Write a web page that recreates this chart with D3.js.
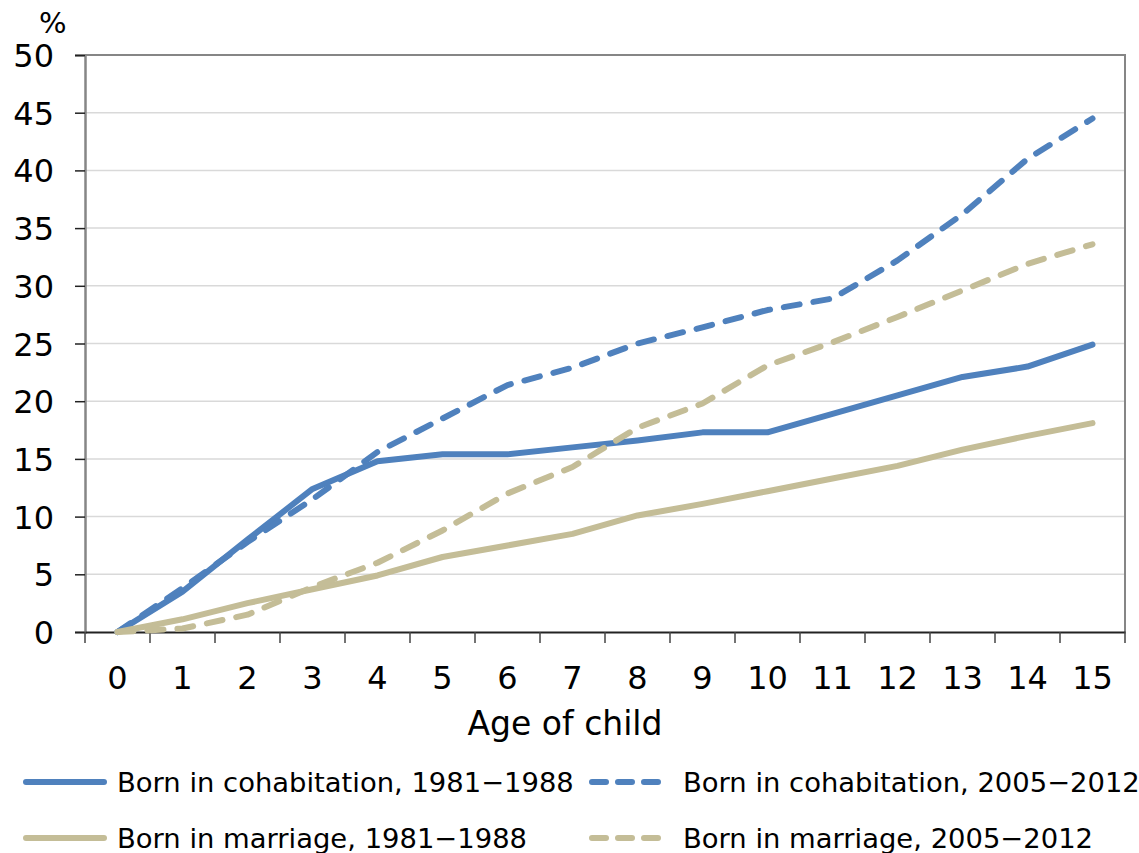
<!DOCTYPE html>
<html>
<head>
<meta charset="utf-8">
<script src="https://d3js.org/d3.v7.min.js"></script>
<style>
  body { margin: 0; background: #fff; }
  text { font-family: "DejaVu Sans", Verdana, sans-serif; fill: #000; }
</style>
</head>
<body>
<script>
// data
var ages = d3.range(0, 16);
var cohab1981 = [0, 3.5, 8.0, 12.4, 14.8, 15.4, 15.4, 16.0, 16.6, 17.3, 17.3, 18.9, 20.5, 22.1, 23.0, 24.9];
var cohab2005 = [0, 3.8, 7.8, 11.5, 15.6, 18.5, 21.4, 22.9, 25.0, 26.4, 27.9, 28.9, 32.2, 36.2, 41.0, 44.5];
var marr1981 = [0, 1.1, 2.5, 3.7, 4.9, 6.5, 7.5, 8.5, 10.1, 11.1, 12.2, 13.3, 14.4, 15.8, 17.0, 18.1];
var marr2005 = [0, 0.3, 1.5, 3.9, 6.0, 8.8, 12.0, 14.3, 17.7, 19.8, 23.1, 25.1, 27.3, 29.6, 31.9, 33.6];
var yTicks = d3.range(0, 51, 5);

var series = [
  { name: "Born in cohabitation, 1981\u22121988", values: cohab1981, color: "#4F81BD", dash: null },
  { name: "Born in cohabitation, 2005\u22122012", values: cohab2005, color: "#4F81BD", dash: "16,14" },
  { name: "Born in marriage, 1981\u22121988", values: marr1981, color: "#C4BD97", dash: null },
  { name: "Born in marriage, 2005\u22122012", values: marr2005, color: "#C4BD97", dash: "16,14" }
];

var width = 1139, height = 853;
var margin = { top: 55, right: 14, bottom: 221, left: 85 };
var w = width - margin.left - margin.right;
var h = height - margin.top - margin.bottom;

var svg = d3.select("body").append("svg")
  .attr("width", width)
  .attr("height", height);

var g = svg.append("g")
  .attr("transform", "translate(" + margin.left + "," + margin.top + ")");

var x = d3.scaleBand().domain(ages).range([0, w]);
var y = d3.scaleLinear().domain([0, 50]).range([h, 0]);

// gridlines
g.append("g").selectAll("line")
  .data(yTicks.filter(function (d) { return d > 0; }))
  .enter().append("line")
  .attr("x1", 0).attr("x2", w)
  .attr("y1", function (d) { return y(d); })
  .attr("y2", function (d) { return y(d); })
  .attr("stroke", "#d9d9d9")
  .attr("stroke-width", 1.5);

// plot border (top / right)
g.append("path")
  .attr("d", "M0,0H" + w + "V" + h)
  .attr("fill", "none")
  .attr("stroke", "#868686")
  .attr("stroke-width", 2);

// y axis
var yAxis = g.append("g")
  .call(d3.axisLeft(y).tickValues(yTicks).tickSize(10).tickPadding(21));
yAxis.select(".domain").attr("stroke", "#868686").attr("stroke-width", 2.5);
yAxis.selectAll(".tick line").attr("stroke", "#222").attr("stroke-width", 1.5);
yAxis.selectAll("text").style("font-size", "32px").attr("dy", "0.36em");

// x axis, ticks between categories
var xAxis = g.append("g")
  .attr("transform", "translate(0," + h + ")")
  .call(d3.axisBottom(x).tickSize(0).tickPadding(34));
xAxis.select(".domain").attr("stroke", "#222").attr("stroke-width", 2);
xAxis.selectAll("text").style("font-size", "32px");
xAxis.append("g").selectAll("line")
  .data(d3.range(0, 17))
  .enter().append("line")
  .attr("x1", function (d) { return d * x.step(); })
  .attr("x2", function (d) { return d * x.step(); })
  .attr("y1", 0).attr("y2", 11)
  .attr("stroke", "#444")
  .attr("stroke-width", 1.5);

// axis titles
svg.append("text")
  .attr("x", 565).attr("y", 735)
  .attr("text-anchor", "middle")
  .style("font-size", "33px")
  .text("Age of child");

svg.append("text")
  .attr("x", 39).attr("y", 33)
  .attr("text-anchor", "start")
  .style("font-size", "29px")
  .text("%");

// lines
var line = d3.line()
  .x(function (d, i) { return x(ages[i]) + x.bandwidth() / 2; })
  .y(function (d) { return y(d); });

g.append("g").selectAll("path")
  .data(series)
  .enter().append("path")
  .attr("d", function (d) { return line(d.values); })
  .attr("fill", "none")
  .attr("stroke", function (d) { return d.color; })
  .attr("stroke-width", 6)
  .attr("stroke-linejoin", "round")
  .attr("stroke-linecap", "round")
  .attr("stroke-dasharray", function (d) { return d.dash; });

// legend
var legendPos = [
  { x: 26, y: 782 }, { x: 592, y: 782 },
  { x: 26, y: 838 }, { x: 592, y: 838 }
];
var leg = svg.append("g").selectAll("g")
  .data(series)
  .enter().append("g")
  .attr("transform", function (d, i) { return "translate(" + legendPos[i].x + "," + legendPos[i].y + ")"; });

leg.append("line")
  .attr("x1", 0).attr("x2", function (d) { return d.dash ? 70 : 78; })
  .attr("y1", 0).attr("y2", 0)
  .attr("stroke", function (d) { return d.color; })
  .attr("stroke-width", 6)
  .attr("stroke-linecap", "round")
  .attr("stroke-dasharray", function (d) { return d.dash ? "14,12" : null; });

leg.append("text")
  .attr("x", 91)
  .attr("y", 0)
  .attr("dy", "0.36em")
  .style("font-size", "27.4px")
  .text(function (d) { return d.name; });
</script>
</body>
</html>
